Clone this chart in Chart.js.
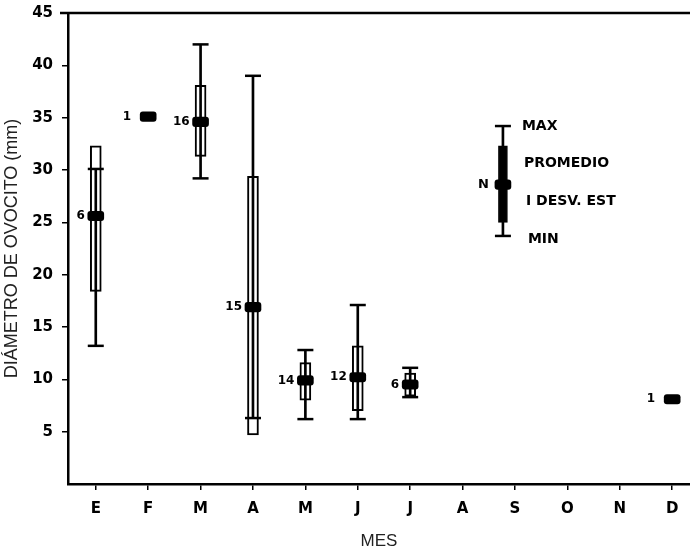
<!DOCTYPE html>
<html>
<head>
<meta charset="utf-8">
<script src="https://cdn.jsdelivr.net/npm/chart.js@4.4.1/dist/chart.umd.min.js"></script>
<style>
  body { margin: 0; background: #fff; }
</style>
</head>
<body>
<canvas id="ovocitoChart" width="690" height="552"></canvas>
<script>
// Meses y valores
var months = ['E', 'F', 'M', 'A', 'M', 'J', 'J', 'A', 'S', 'O', 'N', 'D'];
var nCount = [6, 1, 16, 15, 14, 12, 6, null, null, null, null, 1];
var meanVal = [25.6, 35.1, 34.6, 16.9, 9.9, 10.2, 9.5, null, null, null, null, 8.1];
var sdLow = [18.4, null, 31.3, 4.7, 8.0, 7.0, 8.4, null, null, null, null, null];
var sdHigh = [32.3, null, 38.1, 29.4, 11.6, 13.2, 10.6, null, null, null, null, null];
var minVal = [13.2, null, 29.2, 6.3, 6.2, 6.2, 8.3, null, null, null, null, null];
var maxVal = [30.1, null, 42.0, 39.0, 12.8, 17.1, 11.1, null, null, null, null, null];
var yTicks = [5, 10, 15, 20, 25, 30, 35, 40, 45];

// Leyenda (símbolo de ejemplo)
var legendStats = { x: 8.77, max: 34.2, high: 32.3, mean: 28.6, low: 25.0, min: 23.7 };
var legendLabels = ['MAX', 'PROMEDIO', 'I DESV. EST', 'MIN'];

var boxData = [], whiskerData = [], capData = [], meanData = [];
months.forEach(function (m, i) {
    var x = i + 1;
    if (sdLow[i] !== null) boxData.push({ x: x, y: [sdLow[i], sdHigh[i]] });
    if (minVal[i] !== null) {
        whiskerData.push({ x: x, y: [minVal[i], maxVal[i]] });
        capData.push({ x: x, y: minVal[i] });
        capData.push({ x: x, y: maxVal[i] });
    }
    if (meanVal[i] !== null) meanData.push({ x: x, y: [meanVal[i] - 0.45, meanVal[i] + 0.45] });
});

var boldFont = '"DejaVu Sans", sans-serif';

var extras = {
    id: 'extras',
    afterDatasetsDraw: function (chart) {
        var ctx = chart.ctx, xs = chart.scales.x, ys = chart.scales.y, area = chart.chartArea;
        ctx.save();
        // línea superior del marco
        ctx.strokeStyle = '#000';
        ctx.lineWidth = 2.5;
        ctx.beginPath();
        ctx.moveTo(area.left - 8, area.top);
        ctx.lineTo(area.right, area.top);
        ctx.stroke();

        // etiquetas N
        ctx.fillStyle = '#000';
        ctx.font = 'bold 12px ' + boldFont;
        ctx.textAlign = 'right';
        ctx.textBaseline = 'middle';
        nCount.forEach(function (n, i) {
            if (n === null) return;
            var gap = sdLow[i] === null ? 17 : 11;
            ctx.fillText(String(n), xs.getPixelForValue(i + 1) - gap, ys.getPixelForValue(meanVal[i]));
        });

        // leyenda
        var lx = xs.getPixelForValue(legendStats.x);
        ctx.font = 'bold 13px ' + boldFont;
        ctx.fillText('N', lx - 14, ys.getPixelForValue(legendStats.mean));
        ctx.textAlign = 'left';
        ctx.font = 'bold 14px ' + boldFont;
        var yTop = ys.getPixelForValue(legendStats.max);
        var yBot = ys.getPixelForValue(legendStats.min) + 3;
        legendLabels.forEach(function (t, k) {
            ctx.fillText(t, lx + 19 + 2 * k, yTop + k * (yBot - yTop) / 3);
        });
        ctx.restore();
    }
};

var ctx = document.getElementById('ovocitoChart').getContext('2d');
var chart = new Chart(ctx, {
    type: 'bar',
    data: {
        datasets: [
            {
                label: 'desv',
                data: boxData,
                backgroundColor: '#fff',
                borderColor: '#000',
                borderWidth: 2,
                borderSkipped: false,
                barThickness: 11,
                grouped: false,
                order: 5
            },
            {
                label: 'rango',
                data: whiskerData,
                backgroundColor: '#000',
                borderWidth: 0,
                barThickness: 2,
                grouped: false,
                order: 4
            },
            {
                label: 'desv leyenda',
                data: [{ x: legendStats.x, y: [legendStats.low, legendStats.high] }],
                backgroundColor: '#000',
                borderColor: '#000',
                borderWidth: 1,
                borderSkipped: false,
                barThickness: 9,
                grouped: false,
                order: 4
            },
            {
                label: 'rango leyenda',
                data: [{ x: legendStats.x, y: [legendStats.min, legendStats.max] }],
                backgroundColor: '#000',
                borderWidth: 0,
                barThickness: 2,
                grouped: false,
                order: 4
            },
            {
                type: 'scatter',
                label: 'extremos',
                data: capData.concat([
                    { x: legendStats.x, y: legendStats.max },
                    { x: legendStats.x, y: legendStats.min }
                ]),
                pointStyle: 'line',
                pointRadius: 8,
                borderColor: '#000',
                borderWidth: 2.5,
                order: 2
            },
            {
                label: 'promedio',
                data: meanData.concat([{ x: legendStats.x, y: [legendStats.mean - 0.45, legendStats.mean + 0.45] }]),
                backgroundColor: '#000',
                borderWidth: 0,
                borderRadius: 3,
                borderSkipped: false,
                barThickness: 16,
                grouped: false,
                order: 1
            }
        ]
    },
    options: {
        responsive: false,
        animation: false,
        layout: { autoPadding: false, padding: { top: 13, right: 0, bottom: 0, left: 0 } },
        plugins: {
            legend: { display: false },
            tooltip: { enabled: false }
        },
        scales: {
            x: {
                type: 'linear',
                min: 0.47,
                max: 12.34,
                offset: false,
                afterBuildTicks: function (scale) {
                    scale.ticks = months.map(function (m, i) { return { value: i + 1 }; });
                },
                afterFit: function (scale) {
                    scale.height = 68;
                    scale.paddingLeft = 0;
                    scale.paddingRight = 0;
                },
                ticks: {
                    callback: function (v) { return months[v - 1]; },
                    color: '#000',
                    font: { family: boldFont, weight: 'bold', size: 15 },
                    padding: 10,
                    maxRotation: 0,
                    autoSkip: false
                },
                grid: { drawOnChartArea: false, offset: false, tickLength: 6, color: '#000', lineWidth: 1.5 },
                border: { color: '#000', width: 2.5 },
                title: {
                    display: true,
                    text: 'MES',
                    color: '#222',
                    font: { family: '"Liberation Sans", sans-serif', size: 17 },
                    padding: { top: -4, bottom: 0 }
                }
            },
            y: {
                min: 0,
                max: 45,
                afterBuildTicks: function (scale) {
                    scale.ticks = yTicks.map(function (v) { return { value: v }; });
                },
                afterFit: function (scale) {
                    scale.width = 68;
                    scale.paddingTop = 0;
                    scale.paddingBottom = 0;
                },
                ticks: {
                    color: '#000',
                    font: { family: boldFont, weight: 'bold', size: 15 },
                    padding: 9
                },
                grid: { drawOnChartArea: false, tickLength: 6, color: '#000', lineWidth: 1.5 },
                border: { color: '#000', width: 2.5 },
                title: {
                    display: true,
                    text: 'DIÁMETRO DE OVOCITO (mm)',
                    color: '#222',
                    font: { family: '"Liberation Sans", sans-serif', size: 18 },
                    padding: { top: 1, bottom: 0 }
                }
            }
        }
    },
    plugins: [extras]
});
</script>
</body>
</html>
